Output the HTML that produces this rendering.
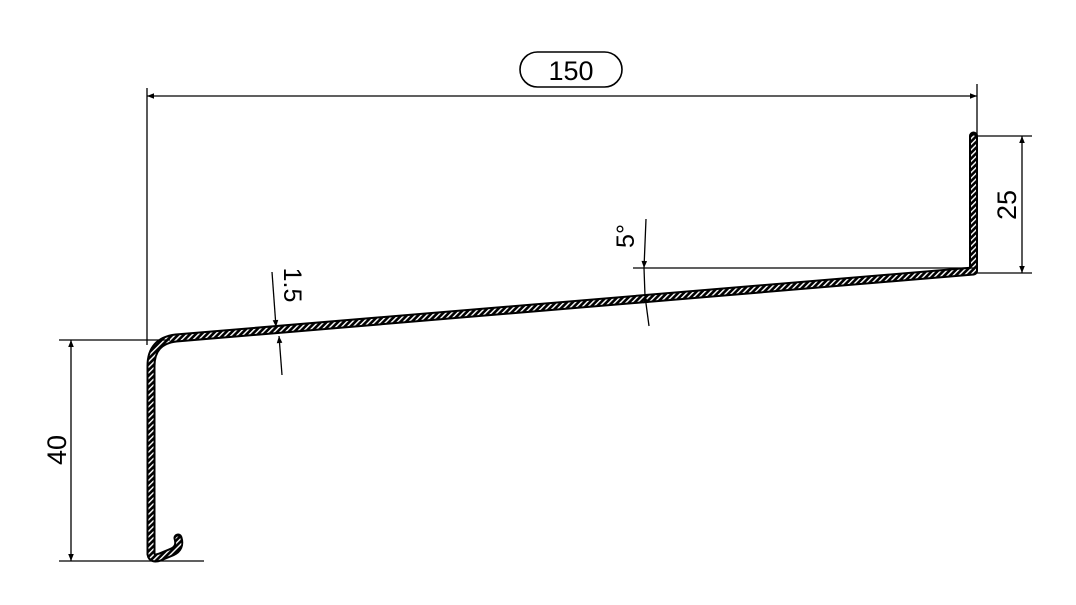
<!DOCTYPE html>
<html><head><meta charset="utf-8"><style>
html,body{margin:0;padding:0;background:#fff;}
svg{display:block;}
text{font-family:"Liberation Sans",sans-serif;fill:#000;}
</style></head><body>
<svg width="1076" height="605" viewBox="0 0 1076 605" xmlns="http://www.w3.org/2000/svg">
<defs>
<pattern id="h" width="4" height="4" patternUnits="userSpaceOnUse" patternTransform="rotate(45)">
<rect width="4" height="4" fill="#000"/>
<rect x="0" y="0" width="1.4" height="4" fill="#fff"/>
</pattern>
<marker id="a" viewBox="0 0 10 10" refX="10" refY="5" markerWidth="14" markerHeight="7" orient="auto-start-reverse" markerUnits="userSpaceOnUse">
<path d="M0,1 L10,5 L0,9 Z" fill="#000"/>
</marker>
</defs>
<g fill="none" stroke-linejoin="round" stroke-linecap="round">
<path d="M973.5,136 L973.5,271 L176,338 Q151,341 151,366 L151,554 Q152,560 160,557 L172,552 Q181,548 178,538" stroke="#000" stroke-width="9"/>
<path d="M973.5,138 L973.5,271 L176,338 Q151,341 151,366 L151,554 Q152,560 160,557 L172,552 Q181,548 178,539" stroke="url(#h)" stroke-width="5"/>
</g>
<g stroke="#000" stroke-width="1.3" fill="none">
<line x1="147" y1="88" x2="147" y2="345"/>
<line x1="977" y1="84" x2="977" y2="136"/>
<line x1="147" y1="96" x2="977" y2="96" marker-start="url(#a)" marker-end="url(#a)"/>
<rect x="520" y="52" width="102" height="35" rx="17.5" stroke-width="1.6"/>
<line x1="977" y1="136" x2="1032" y2="136"/>
<line x1="977" y1="273" x2="1032" y2="273"/>
<line x1="1022" y1="136" x2="1022" y2="273" marker-start="url(#a)" marker-end="url(#a)"/>
<line x1="59" y1="340" x2="170" y2="340"/>
<line x1="59" y1="561" x2="204" y2="561"/>
<line x1="71" y1="340" x2="71" y2="561" marker-start="url(#a)" marker-end="url(#a)"/>
<line x1="633" y1="268" x2="975" y2="268"/>
<line x1="646" y1="219" x2="644" y2="268" marker-end="url(#a)"/>
<line x1="649" y1="326" x2="645" y2="296" marker-end="url(#a)"/>
<line x1="644" y1="268" x2="645" y2="296"/>
<line x1="272" y1="272" x2="276" y2="327" marker-end="url(#a)"/>
<line x1="282" y1="375" x2="279" y2="336" marker-end="url(#a)"/>
</g>
<text x="571" y="80" font-size="27" text-anchor="middle">150</text>
<text transform="translate(1016,205) rotate(-90)" font-size="27" text-anchor="middle">25</text>
<text transform="translate(66,450) rotate(-90)" font-size="27" text-anchor="middle">40</text>
<text transform="translate(634,236) rotate(-90)" font-size="25" text-anchor="middle">5°</text>
<text transform="translate(284,285) rotate(90)" font-size="25" text-anchor="middle">1.5</text>
</svg>
</body></html>
